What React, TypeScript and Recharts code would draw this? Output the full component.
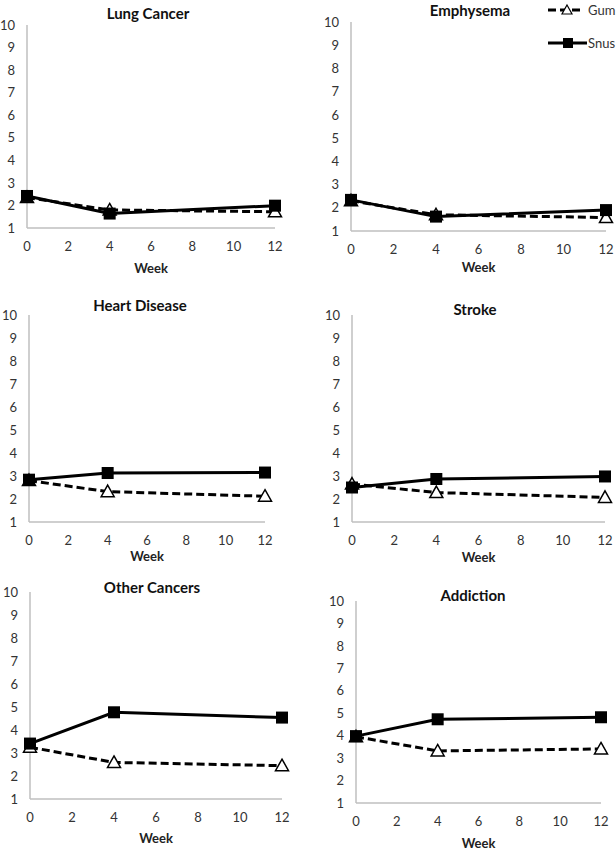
import React from 'react';
import { LineChart, Line, XAxis, YAxis } from 'recharts';

// ---- data ----
const weeks = [0, 4, 12];
const xTicks = [0, 2, 4, 6, 8, 10, 12];
const yTicks = [1, 2, 3, 4, 5, 6, 7, 8, 9, 10];
const seriesNames = ['Gum', 'Snus'];
const panelTitles = ['Lung Cancer', 'Emphysema', 'Heart Disease', 'Stroke', 'Other Cancers', 'Addiction'];
const xAxisTitle = 'Week';

const lungCancerGum = [2.35, 1.8, 1.72];
const lungCancerSnus = [2.42, 1.64, 1.99];
const emphysemaGum = [2.3, 1.7, 1.58];
const emphysemaSnus = [2.34, 1.62, 1.9];
const heartDiseaseGum = [2.8, 2.32, 2.12];
const heartDiseaseSnus = [2.84, 3.13, 3.15];
const strokeGum = [2.65, 2.28, 2.07];
const strokeSnus = [2.5, 2.87, 2.98];
const otherCancersGum = [3.25, 2.59, 2.45];
const otherCancersSnus = [3.41, 4.77, 4.54];
const addictionGum = [3.95, 3.32, 3.41];
const addictionSnus = [3.98, 4.73, 4.82];

const gumSeries = [lungCancerGum, emphysemaGum, heartDiseaseGum, strokeGum, otherCancersGum, addictionGum];
const snusSeries = [lungCancerSnus, emphysemaSnus, heartDiseaseSnus, strokeSnus, otherCancersSnus, addictionSnus];

const build = (gum: number[], snus: number[]) =>
  weeks.map((w, i) => ({ week: w, gum: gum[i], snus: snus[i] }));

// ---- layout ----
const layouts = [
  { x0: 27, x12: 275, yTop: 25, yBot: 228, titleX: 148, titleY: 13, weekY: 268 },
  { x0: 351, x12: 606, yTop: 22, yBot: 231, titleX: 470, titleY: 10, weekY: 267 },
  { x0: 29, x12: 265, yTop: 315, yBot: 522, titleX: 140, titleY: 305, weekY: 556 },
  { x0: 352, x12: 605, yTop: 315, yBot: 522, titleX: 475, titleY: 309, weekY: 557 },
  { x0: 30, x12: 282, yTop: 592, yBot: 799, titleX: 152, titleY: 587, weekY: 838 },
  { x0: 356, x12: 601, yTop: 601, yBot: 803, titleX: 473, titleY: 595, weekY: 843 },
];

const FONT = 'Lato, "Open Sans", sans-serif';
const AXIS_COLOR = '#bfbfbf';
const TICK_COLOR = '#333';

const squareDot = (p: any) => {
  const { cx, cy, index } = p;
  if (cx == null || cy == null) return <g key={`s${index}`} />;
  return <rect key={`s${index}`} x={cx - 6} y={cy - 6} width={12} height={12} fill="#000" />;
};

const triangleDot = (p: any) => {
  const { cx, cy, index } = p;
  if (cx == null || cy == null) return <g key={`t${index}`} />;
  const pts = `${cx},${cy - 6.5} ${cx + 6.5},${cy + 5} ${cx - 6.5},${cy + 5}`;
  return <polygon key={`t${index}`} points={pts} fill="#fff" stroke="#000" strokeWidth={1.5} />;
};

function Panel({ idx }: { idx: number }) {
  const L = layouts[idx];
  const data = build(gumSeries[idx], snusSeries[idx]);
  const mt = 15, mr = 14, yw = 40, xh = 30;
  const plotW = L.x12 - L.x0;
  const plotH = L.yBot - L.yTop;
  const w = yw + plotW + mr;
  const h = mt + plotH + xh;
  const left = L.x0 - yw;
  const top = L.yTop - mt;
  return (
    <>
      <div style={{ position: 'absolute', left, top, width: w, height: h }}>
        <LineChart width={w} height={h} data={data} margin={{ top: mt, right: mr, left: 0, bottom: 0 }}>
          <XAxis
            type="number"
            dataKey="week"
            domain={[0, 12]}
            ticks={xTicks}
            interval={0}
            tickLine={false}
            tickSize={0}
            tickMargin={14}
            height={xh}
            axisLine={{ stroke: AXIS_COLOR, strokeWidth: 1.5 }}
            tick={{ fill: TICK_COLOR, fontSize: 13, fontFamily: FONT }}
          />
          <YAxis
            type="number"
            domain={[1, 10]}
            ticks={yTicks}
            interval={0}
            tickLine={false}
            tickSize={0}
            tickMargin={12}
            width={yw}
            axisLine={{ stroke: AXIS_COLOR, strokeWidth: 1.5 }}
            tick={{ fill: TICK_COLOR, fontSize: 13, fontFamily: FONT }}
          />
          <Line
            dataKey="gum"
            name={seriesNames[0]}
            type="linear"
            stroke="#000"
            strokeWidth={3}
            strokeDasharray="8 4"
            dot={triangleDot}
            activeDot={false}
            isAnimationActive={false}
          />
          <Line
            dataKey="snus"
            name={seriesNames[1]}
            type="linear"
            stroke="#000"
            strokeWidth={3}
            dot={squareDot}
            activeDot={false}
            isAnimationActive={false}
          />
        </LineChart>
      </div>
      <div
        style={{
          position: 'absolute',
          left: L.titleX - 100,
          top: L.titleY - 10,
          width: 200,
          lineHeight: '20px',
          textAlign: 'center',
          fontFamily: FONT,
          fontWeight: 700,
          fontSize: 15,
          color: '#111',
          whiteSpace: 'nowrap',
        }}
      >
        {panelTitles[idx]}
      </div>
      <div
        style={{
          position: 'absolute',
          left: (L.x0 + L.x12) / 2 - 50,
          top: L.weekY - 10,
          width: 100,
          lineHeight: '20px',
          textAlign: 'center',
          fontFamily: FONT,
          fontWeight: 700,
          fontSize: 13,
          color: '#222',
        }}
      >
        {xAxisTitle}
      </div>
    </>
  );
}

function LegendBox() {
  return (
    <svg style={{ position: 'absolute', left: 540, top: 0 }} width={76} height={56}>
      <line x1={8} y1={10} x2={43} y2={10} stroke="#000" strokeWidth={3} strokeDasharray="8 4" />
      <polygon points="27,5 32,14 22,14" fill="#fff" stroke="#000" strokeWidth={1.2} />
      <text x={48} y={10} dominantBaseline="central" fontFamily={FONT} fontSize={13} fill={TICK_COLOR}>
        {seriesNames[0]}
      </text>
      <line x1={8} y1={43} x2={47} y2={43} stroke="#000" strokeWidth={3} />
      <rect x={23} y={38} width={10} height={10} fill="#000" />
      <text x={48} y={43} dominantBaseline="central" fontFamily={FONT} fontSize={13} fill={TICK_COLOR}>
        {seriesNames[1]}
      </text>
    </svg>
  );
}

export default function App() {
  return (
    <div
      style={{
        position: 'absolute',
        left: 0,
        top: 0,
        width: 616,
        height: 852,
        background: '#fff',
        overflow: 'hidden',
      }}
    >
      {layouts.map((_, i) => (
        <Panel key={i} idx={i} />
      ))}
      <LegendBox />
    </div>
  );
}
